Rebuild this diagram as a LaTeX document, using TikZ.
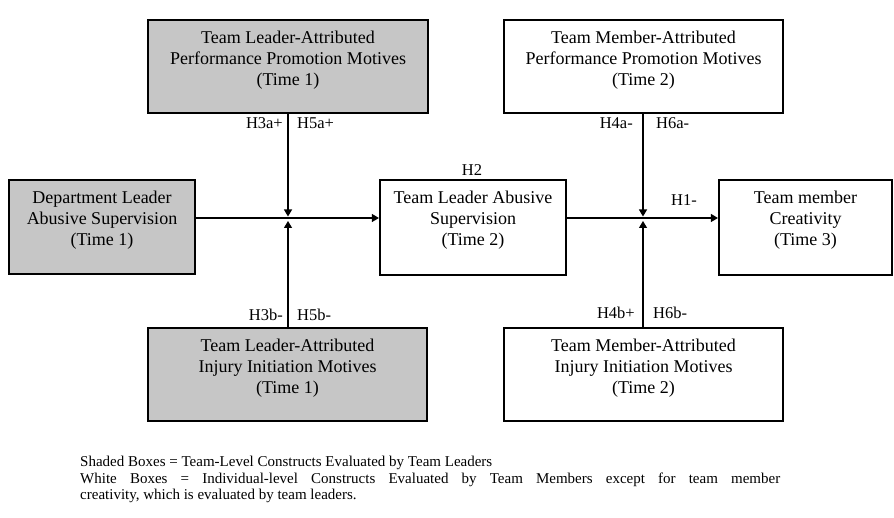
\documentclass[tikz,border=0pt]{standalone}
\usepackage{fontspec}
\setmainfont{Liberation Serif}
\usetikzlibrary{arrows.meta,calc}
\begin{document}
\begin{tikzpicture}[x=1pt,y=-1pt,
  box/.style={draw=black,line width=2.2pt,inner sep=0pt},
  shaded/.style={box,fill=gray!45},
  plain/.style={box,fill=white},
  boxtext/.style={anchor=north,align=center,inner sep=0pt,yshift=-12pt,
    font=\fontsize{18}{21}\selectfont},
  hlabel/.style={inner sep=0pt,font=\fontsize{16.5}{18}\selectfont},
  link/.style={line width=1.1pt,-{Triangle[length=7pt,width=8pt]}},
  legend/.style={anchor=north west,align=left,inner sep=0pt,
    font=\fontsize{15}{16.5}\selectfont}]
\useasboundingbox (0,0) rectangle (894,518);

% boxes
\node[shaded,minimum width=280pt,minimum height=93pt] (tl) at (288,66.5) {};
\node[plain,minimum width=279pt,minimum height=93pt] (tr) at (643.5,66.5) {};
\node[shaded,minimum width=186pt,minimum height=94pt] (dl) at (102,227) {};
\node[plain,minimum width=186pt,minimum height=95pt] (mid) at (473,227.5) {};
\node[plain,minimum width=173pt,minimum height=95pt] (cr) at (805.5,227.5) {};
\node[shaded,minimum width=279pt,minimum height=93pt] (bl) at (287.5,374.5) {};
\node[plain,minimum width=279pt,minimum height=93pt] (br) at (643.5,374.5) {};

% box texts
\node[boxtext] (tlt) at (tl.north) {Team Leader-Attributed\\Performance Promotion Motives\\(Time 1)};
\node[boxtext] (trt) at (tr.north) {Team Member-Attributed\\Performance Promotion Motives\\(Time 2)};
\node[boxtext] (dlt) at (dl.north) {Department Leader\\Abusive Supervision\\(Time 1)};
\node[boxtext] (midt) at (mid.north) {Team Leader Abusive\\Supervision\\(Time 2)};
\node[boxtext] (crt) at (cr.north) {Team member\\Creativity\\(Time 3)};
\node[boxtext] (blt) at (bl.north) {Team Leader-Attributed\\Injury Initiation Motives\\(Time 1)};
\node[boxtext] (brt) at (br.north) {Team Member-Attributed\\Injury Initiation Motives\\(Time 2)};

% junctions on the main path
\coordinate (j1) at (288,218);
\coordinate (j2) at (643,218);

% connectors
\draw[link] (dl.east |- j1) -- (mid.west |- j1);
\draw[link] (mid.east |- j2) -- (cr.west |- j2);
\draw[link] (j1 |- tl.south) -- ($(j1)+(0,-1.5)$);
\draw[link] (j1 |- bl.north) -- ($(j1)+(0,3)$);
\draw[link] (j2 |- tr.south) -- ($(j2)+(0,-1.5)$);
\draw[link] (j2 |- br.north) -- ($(j2)+(0,3)$);

% hypothesis labels
\node[hlabel,anchor=east] (h3a) at (283,123) {H3a+};
\node[hlabel,anchor=west] (h5a) at (297,123) {H5a+};
\node[hlabel,anchor=east] (h3b) at (283,315) {H3b-};
\node[hlabel,anchor=west] (h5b) at (297,315) {H5b-};
\node[hlabel,anchor=east] (h4a) at (633,123) {H4a-};
\node[hlabel,anchor=west] (h6a) at (656,123) {H6a-};
\node[hlabel,anchor=east] (h4b) at (635,313) {H4b+};
\node[hlabel,anchor=west] (h6b) at (653,313) {H6b-};
\node[hlabel] (h2) at (472,170) {H2};
\node[hlabel] (h1) at (684,200) {H1-};

% legend (second line is justified to the paragraph width)
\node[legend] (leg) at (80,456) {Shaded Boxes = Team-Level Constructs Evaluated by Team Leaders\\
\makebox[700pt][s]{White Boxes = Individual-level Constructs Evaluated by Team Members except for team member}\\
creativity, which is evaluated by team leaders.};
\end{tikzpicture}
\end{document}
